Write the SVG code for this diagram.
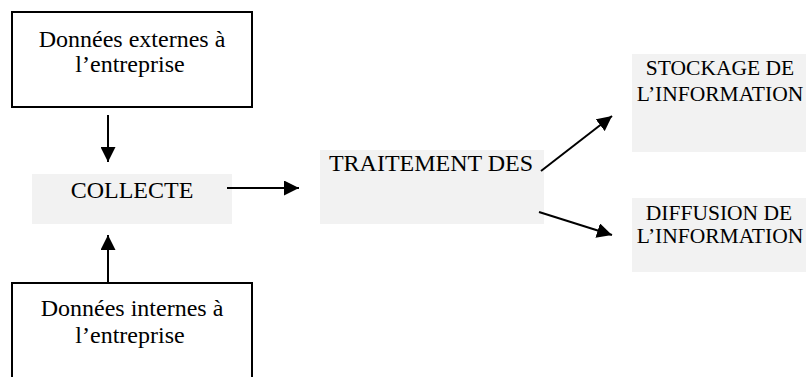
<svg xmlns="http://www.w3.org/2000/svg" width="806" height="377" viewBox="0 0 806 377">
<style>
.frame{fill:#ffffff;stroke:#000;stroke-width:2}
.shade{fill:#f2f2f2;stroke:none}
.t{font-family:"Liberation Serif","Times New Roman",serif;fill:#000;text-anchor:middle}
.big{font-size:24px}
.small{font-size:21.5px}
.conn{stroke:#000;stroke-width:2;fill:none;marker-end:url(#ah)}
</style>
<defs>
<marker id="ah" markerUnits="userSpaceOnUse" markerWidth="16" markerHeight="15" refX="15" refY="7.5" orient="auto">
<path d="M0,0 L15,7.5 L0,15 z" fill="#000"/>
</marker>
</defs>
<g id="ext">
<rect class="frame" x="12" y="12" width="240" height="95"/>
<text class="t big" x="132" y="47">Données externes à</text>
<text class="t big" x="130" y="72">l’entreprise</text>
</g>
<g id="int">
<rect class="frame" x="12" y="283" width="240" height="100"/>
<text class="t big" x="132" y="316">Données internes à</text>
<text class="t big" x="130" y="343">l’entreprise</text>
</g>
<g id="collecte">
<rect class="shade" x="32" y="174" width="200" height="50"/>
<text class="t big" x="132" y="198">COLLECTE</text>
</g>
<g id="traitement">
<rect class="shade" x="320" y="150" width="224" height="74"/>
<text class="t big" x="431" y="171">TRAITEMENT DES</text>
</g>
<g id="stockage">
<rect class="shade" x="632" y="54" width="174" height="98"/>
<text class="t small" x="720" y="75">STOCKAGE DE</text>
<text class="t small" x="720" y="101">L’INFORMATION</text>
</g>
<g id="diffusion">
<rect class="shade" x="632" y="198" width="174" height="74"/>
<text class="t small" x="719" y="220">DIFFUSION DE</text>
<text class="t small" x="720" y="243">L’INFORMATION</text>
</g>
<g id="connectors">
<line class="conn" x1="108" y1="115" x2="108" y2="162"/>
<line class="conn" x1="108" y1="283" x2="108" y2="235"/>
<line class="conn" x1="227" y1="188" x2="299" y2="188"/>
<line class="conn" x1="541" y1="171" x2="612" y2="116"/>
<line class="conn" x1="539" y1="212" x2="612" y2="235"/>
</g>
</svg>
